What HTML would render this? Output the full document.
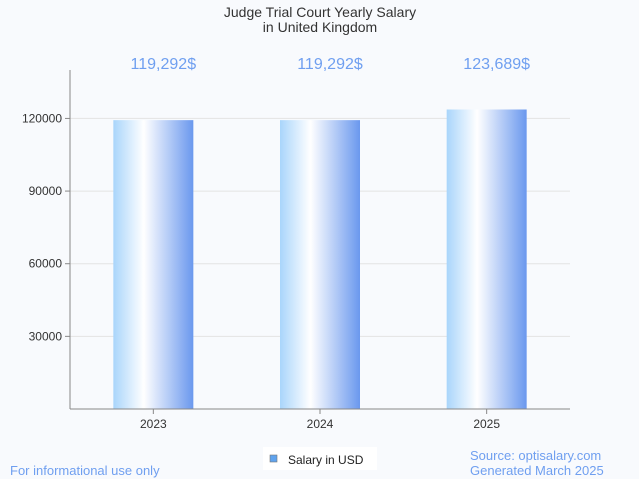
<!DOCTYPE html>
<html><head><meta charset="utf-8"><style>
body{margin:0;background:#f8fafd;font-family:"Liberation Sans",sans-serif;}
svg{display:block}
</style></head><body>
<svg id="c" width="639" height="479">
<defs><linearGradient id="g" x1="0" x2="1" y1="0" y2="0">
<stop offset="0" stop-color="#a9d5fb"/><stop offset="0.38" stop-color="#ffffff"/><stop offset="1" stop-color="#6a98ee"/>
</linearGradient></defs>
<text x="320" y="17" text-anchor="middle" font-size="14" fill="#333">Judge Trial Court Yearly Salary</text>
<text x="320" y="32" text-anchor="middle" font-size="14" fill="#333">in United Kingdom</text>
<g id="grid"></g><g id="bars"></g>
<line x1="70" y1="70" x2="70" y2="409" stroke="#888"/>
<line x1="70" y1="409" x2="570" y2="409" stroke="#888"/>
<g>
<rect x="263" y="447" width="114" height="23" fill="#fff"/>
<rect x="270" y="455" width="7" height="7" fill="#5fa3ee" stroke="#777" stroke-width="0.6"/>
<text x="288" y="464" font-size="12" fill="#222">Salary in USD</text>
</g>
<text x="10" y="475" font-size="13" fill="#6f9ff0">For informational use only</text>
<text x="470" y="460" font-size="13" fill="#6f9ff0">Source: optisalary.com</text>
<text x="470" y="475" font-size="13" fill="#6f9ff0">Generated March 2025</text>
</svg>
<script>
const categories=["2023","2024","2025"];
const values=[119292,119292,123689];
const valueLabels=["119,292$","119,292$","123,689$"];
const yTicks=[30000,60000,90000,120000];
const yMax=140000;
const ns="http://www.w3.org/2000/svg";
const x0=70,x1=570,yb=409,yt=70;
function y(v){return yb-(v/yMax)*(yb-yt);}
function xc(i){const bw=(x1-x0)/categories.length;return x0+bw*(i+0.5);}
function mk(t,a){const e=document.createElementNS(ns,t);for(const k in a)e.setAttribute(k,a[k]);return e;}
const grid=document.getElementById('grid'),bars=document.getElementById('bars');
yTicks.forEach(t=>{
 const l=mk('line',{x1:x0,x2:x1,y1:y(t),y2:y(t),stroke:'#e3e3e3'});
 
 
 grid.appendChild(l);
 const tk=mk('line',{x1:x0-5,x2:x0,y1:y(t),y2:y(t),stroke:'#888'});
 
 
 grid.appendChild(tk);
 const tx=mk('text',{x:x0-8,y:y(t)+4,'text-anchor':'end','font-size':12,fill:'#333'});
 tx.textContent=t;
 
 
 grid.appendChild(tx);
});
categories.forEach((c,i)=>{
 const r=mk('rect',{x:xc(i)-40,y:y(values[i]),width:80,height:yb-y(values[i]),fill:'url(#g)'});
 
 
 bars.appendChild(r);
 const v=mk('text',{x:xc(i)+10,y:69,'text-anchor':'middle','font-size':16,fill:'#6f9ff0'});
 v.textContent=valueLabels[i];
 
 
 bars.appendChild(v);
 const tk=mk('line',{x1:xc(i),x2:xc(i),y1:yb,y2:yb+5,stroke:'#888'});
 
 
 bars.appendChild(tk);
 const xl=mk('text',{x:xc(i),y:428,'text-anchor':'middle','font-size':12,fill:'#333'});
 xl.textContent=c;
 
 
 bars.appendChild(xl);
});
</script>
</body></html>
